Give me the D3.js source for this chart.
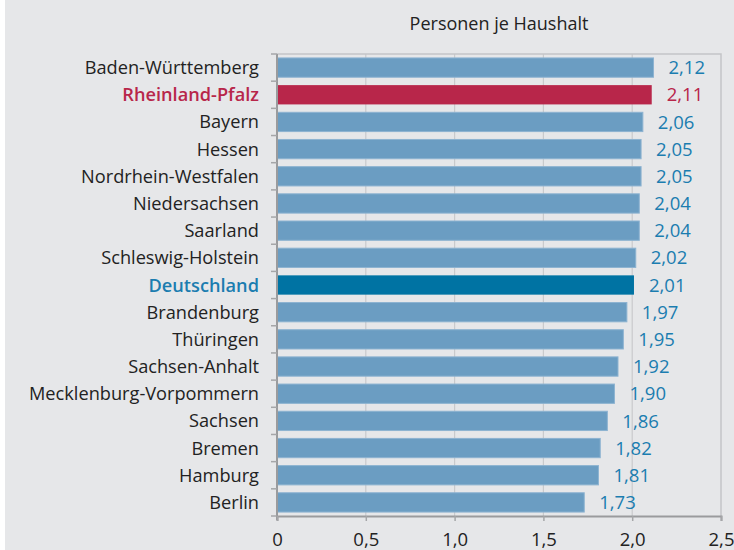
<!DOCTYPE html>
<html><head><meta charset="utf-8">
<script src="https://cdn.jsdelivr.net/npm/d3@7"></script>
<style>
html,body{margin:0;padding:0;background:#fff;}
svg{display:block;}
text{font-family:"Open Sans",sans-serif;}
</style></head>
<body>
<script>
const categories = ["Baden-Württemberg","Rheinland-Pfalz","Bayern","Hessen","Nordrhein-Westfalen","Niedersachsen","Saarland","Schleswig-Holstein","Deutschland","Brandenburg","Thüringen","Sachsen-Anhalt","Mecklenburg-Vorpommern","Sachsen","Bremen","Hamburg","Berlin"];
const values = [2.12,2.11,2.06,2.05,2.05,2.04,2.04,2.02,2.01,1.97,1.95,1.92,1.90,1.86,1.82,1.81,1.73];
const xTicks = [0,0.5,1.0,1.5,2.0,2.5];
const title = "Personen je Haushalt";
const highlightRed = "Rheinland-Pfalz";
const highlightBlue = "Deutschland";

const W = 734, H = 550;
const m = {top:54, right:13, bottom:34, left:277};
const svg = d3.select("body").append("svg").attr("width",W).attr("height",H);
svg.append("rect").attr("width",W).attr("height",H).attr("fill","#fff");
svg.append("rect").attr("x",5).attr("width",W-5).attr("height",H).attr("fill","#e6e7e9");

const x = d3.scaleLinear().domain([0,2.5]).range([m.left, W-m.right]);
const y = d3.scaleBand().domain(categories).range([m.top, H-m.bottom]).paddingInner(0.29).paddingOuter(0.145);
const band = d3.scaleBand().domain(categories).range([m.top, H-m.bottom]);

const fmt = v => d3.format(".2f")(v).replace(".", ",");
const fmtTick = v => d3.format(".1f")(v).replace(".", ",").replace(/^0,0$/,"0");

// gridlines
svg.append("g").selectAll("line").data(xTicks.slice(1,-1)).join("line")
  .attr("x1",d=>x(d)).attr("x2",d=>x(d)).attr("y1",m.top).attr("y2",H-m.bottom)
  .attr("stroke","#c9cacc").attr("stroke-width",1.2);
// frame top/right
svg.append("path").attr("d",`M${x(0)},${m.top}H${x(2.5)}V${H-m.bottom}`)
  .attr("fill","none").attr("stroke","#c4c5c7").attr("stroke-width",1.5);

// bars
const colorOf = c => c===highlightRed ? "#b8264a" : c===highlightBlue ? "#0073a3" : "#6b9dc2";
svg.append("g").selectAll("rect").data(categories).join("rect")
  .attr("x",x(0)).attr("y",d=>y(d)).attr("height",y.bandwidth())
  .attr("width",(d,i)=>x(values[i])-x(0))
  .attr("fill",colorOf)
  .attr("stroke",d=> (d===highlightRed||d===highlightBlue) ? "none" : "#8db3d1")
  .attr("stroke-width",1);

// value labels
svg.append("g").selectAll("text").data(categories).join("text")
  .attr("x",(d,i)=>x(values[i])+15).attr("y",d=>y(d)+y.bandwidth()/2)
  .attr("dy","0.36em")
  .attr("font-size",18.5)
  .attr("fill",d=>d===highlightRed ? "#b8264a" : "#1b7db0")
  .text((d,i)=>fmt(values[i]));

// y axis
const yAxis = svg.append("g").attr("transform",`translate(${x(0)},0)`);
yAxis.append("line").attr("x1",0).attr("x2",0).attr("y1",m.top).attr("y2",H-m.bottom+4)
  .attr("stroke","#9a9b9d").attr("stroke-width",2);
const bounds = categories.map(c=>band(c)).concat([H-m.bottom]);
yAxis.selectAll("line.tk").data(bounds).join("line").attr("class","tk")
  .attr("x1",-6).attr("x2",0).attr("y1",d=>d).attr("y2",d=>d)
  .attr("stroke","#a5a6a8").attr("stroke-width",1.5);
yAxis.selectAll("text").data(categories).join("text")
  .attr("x",-18).attr("y",d=>y(d)+y.bandwidth()/2).attr("dy","0.36em")
  .attr("text-anchor","end").attr("font-size",18.2)
  .attr("font-weight",d=>(d===highlightRed||d===highlightBlue)?"600":"400")
  .attr("fill",d=>d===highlightRed ? "#b8264a" : d===highlightBlue ? "#1b7db0" : "#222")
  .text(d=>d);

// x axis
const xAxis = svg.append("g").attr("transform",`translate(0,${H-m.bottom})`)
  .call(d3.axisBottom(x).tickValues(xTicks).tickFormat(fmtTick).tickSize(5).tickPadding(12));
xAxis.select(".domain").attr("stroke","#9a9b9d").attr("stroke-width",2);
xAxis.selectAll(".tick line").attr("stroke","#a5a6a8").attr("stroke-width",1.5);
xAxis.selectAll(".tick text").attr("font-size",18.5).attr("fill","#222")
  .attr("font-family","'Open Sans',sans-serif");

// title
svg.append("text").attr("x",(x(0)+x(2.5))/2).attr("y",30).attr("text-anchor","middle")
  .attr("font-size",18).attr("fill","#222").text(title);
</script>
</body></html>
